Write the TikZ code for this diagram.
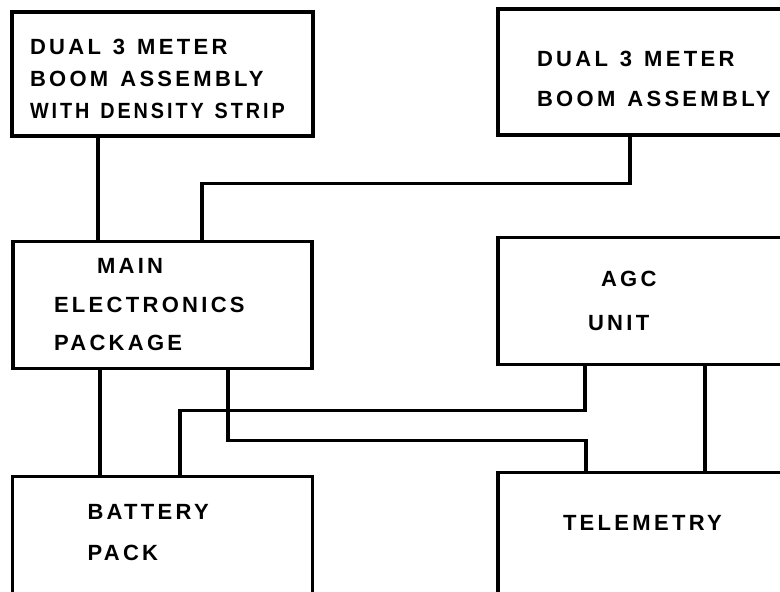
\documentclass[tikz,border=0pt]{standalone}
\usepackage{fontspec}
\newfontfamily\lettering[LetterSpace=15]{Liberation Sans}
\newcommand\gp{\nobreak\hspace{6pt}}
\usetikzlibrary{positioning}

\begin{document}
\begin{tikzpicture}
[unit/.style={draw, line width=1.6pt, align=left, inner ysep=0pt,
    font=\lettering\bfseries\fontsize{11}{16}\selectfont},
 wire/.style={line width=1.6pt}]
\clip (0,0) rectangle (390pt,-295.5pt);
\node[unit, minimum height=62pt, inner xsep=9pt, text width=132.5pt]
  (boom1) at (81.25pt,-37pt)
  {\rule{0pt}{13pt}DUAL\gp 3\gp METER\\BOOM\gp ASSEMBLY\\\scalebox{0.9}[1]{WITH\gp DENSITY\gp STRIP}};
\node[unit, minimum height=63pt, inner xsep=19.5pt, text width=116pt]
  (boom2) at (326.5pt,-36pt) {\rule{0pt}{15pt}DUAL\gp 3\gp METER\\[4pt]BOOM\gp ASSEMBLY};
\node[unit, minimum height=63.5pt, inner xsep=20.5pt, text width=108.5pt,
  below=51pt of boom1] (mep) {\hspace*{21.5pt}MAIN\\[3.5pt]ELECTRONICS\\[3pt]PACKAGE};
\node[unit, minimum height=63.5pt, inner xsep=45pt, text width=65pt,
  below=49.5pt of boom2] (agc) {\hspace*{6.5pt}AGC\\[6pt]UNIT};
\node[unit, minimum height=63.5pt, inner xsep=37.5pt, text width=75pt,
  below=52.5pt of mep] (bat) {BATTERY\\[4.5pt]PACK\rule[-7pt]{0pt}{7pt}};
\node[unit, minimum height=61.5pt, inner xsep=32.5pt, text width=90pt,
  below=52.5pt of agc] (tel) {TELEMETRY\rule[-11pt]{0pt}{11pt}};
% cabling
\draw[wire] ([xshift=-32.25pt]boom1.south) -- ([xshift=-32.25pt]boom1.south |- mep.north);
\draw[wire] ([xshift=-11.5pt]boom2.south) -- ++(0,-23.5pt) -| ([xshift=19.75pt]mep.north);
\draw[wire] ([xshift=-31.25pt]mep.south) -- ([xshift=-31.25pt]mep.south |- bat.north);
\draw[wire] ([xshift=32.75pt]mep.south) -- ++(0,-35.5pt) -| ([xshift=-33.5pt]tel.north);
\draw[wire] ([xshift=-34pt]agc.south) -- ++(0,-22.5pt) -| ([xshift=8.75pt]bat.north);
\draw[wire] ([xshift=26pt]agc.south) -- ([xshift=26pt]agc.south |- tel.north);
\end{tikzpicture}
\end{document}
